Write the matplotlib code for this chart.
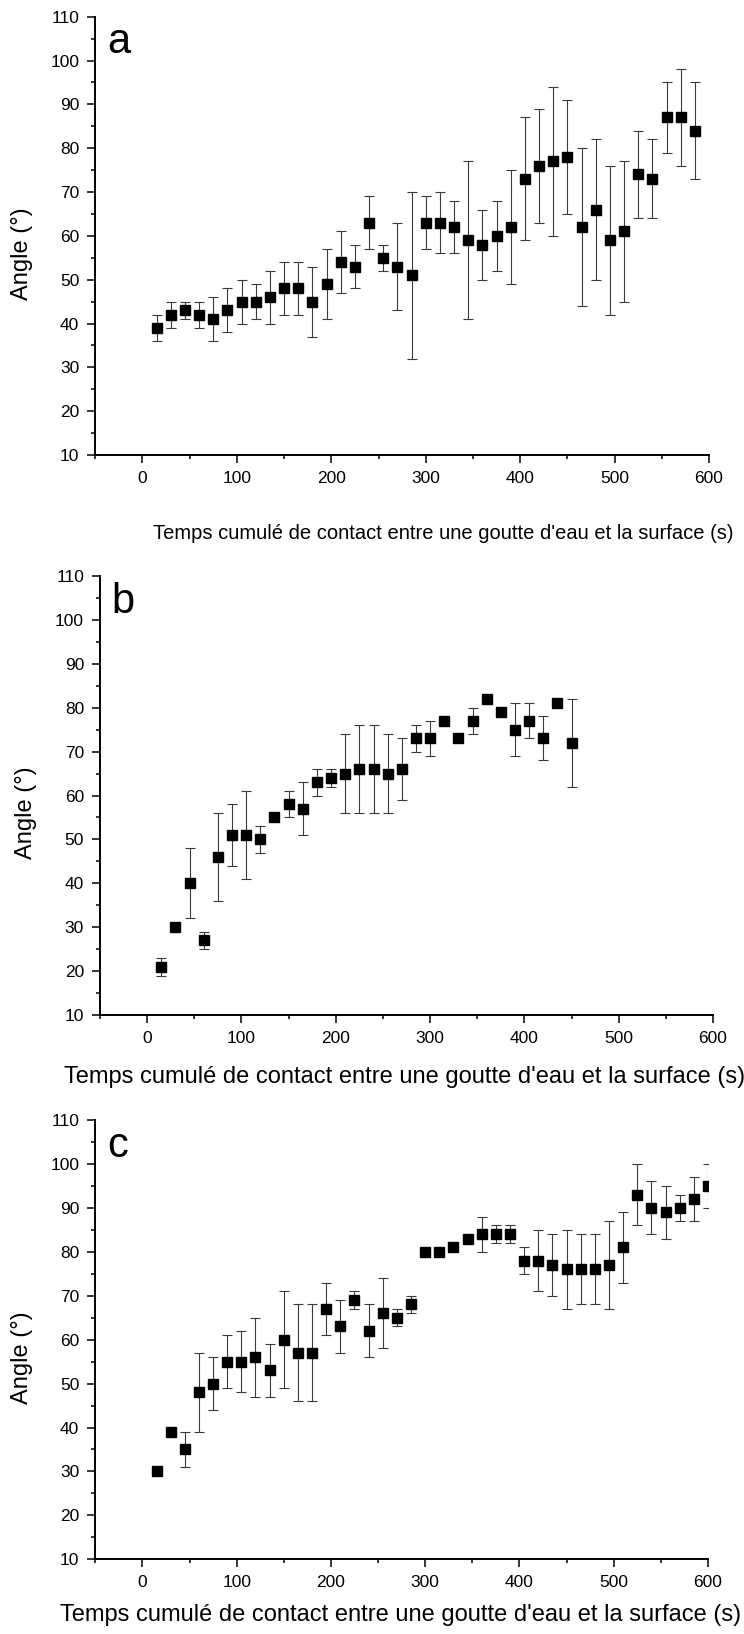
import matplotlib
matplotlib.use("Agg")
import matplotlib.pyplot as plt
import numpy as np
from matplotlib.ticker import MultipleLocator

plt.rcParams['font.family'] = ['Liberation Sans', 'DejaVu Sans']

# data: time (s), angle (deg), lower / upper end of the error bars
t_a = [15, 30, 45, 60, 75, 90, 105, 120, 135, 150, 165, 180, 195, 210, 225, 240, 255, 270, 285, 300,
       315, 330, 345, 360, 375, 390, 405, 420, 435, 450, 465, 480, 495, 510, 525, 540, 555, 570, 585]
ang_a = [39, 42, 43, 42, 41, 43, 45, 45, 46, 48, 48, 45, 49, 54, 53, 63, 55, 53, 51, 63,
         63, 62, 59, 58, 60, 62, 73, 76, 77, 78, 62, 66, 59, 61, 74, 73, 87, 87, 84]
lo_a = [36, 39, 41, 39, 36, 38, 40, 41, 40, 42, 42, 37, 41, 47, 48, 57, 52, 43, 32, 57,
        56, 56, 41, 50, 52, 49, 59, 63, 60, 65, 44, 50, 42, 45, 64, 64, 79, 76, 73]
hi_a = [42, 45, 45, 45, 46, 48, 50, 49, 52, 54, 54, 53, 57, 61, 58, 69, 58, 63, 70, 69,
        70, 68, 77, 66, 68, 75, 87, 89, 94, 91, 80, 82, 76, 77, 84, 82, 95, 98, 95]

t_b = [15, 30, 45, 60, 75, 90, 105, 120, 135, 150, 165, 180, 195, 210, 225,
       240, 255, 270, 285, 300, 315, 330, 345, 360, 375, 390, 405, 420, 435, 450]
ang_b = [21, 30, 40, 27, 46, 51, 51, 50, 55, 58, 57, 63, 64, 65, 66,
         66, 65, 66, 73, 73, 77, 73, 77, 82, 79, 75, 77, 73, 81, 72]
lo_b = [19, np.nan, 32, 25, 36, 44, 41, 47, np.nan, 55, 51, 60, 62, 56, 56,
        56, 56, 59, 70, 69, np.nan, np.nan, 74, np.nan, np.nan, 69, 73, 68, np.nan, 62]
hi_b = [23, np.nan, 48, 29, 56, 58, 61, 53, np.nan, 61, 63, 66, 66, 74, 76,
        76, 74, 73, 76, 77, np.nan, np.nan, 80, np.nan, np.nan, 81, 81, 78, np.nan, 82]

t_c = [15, 30, 45, 60, 75, 90, 105, 120, 135, 150, 165, 180, 195, 210, 225, 240, 255, 270, 285, 300,
       315, 330, 345, 360, 375, 390, 405, 420, 435, 450, 465, 480, 495, 510, 525, 540, 555, 570, 585, 600]
ang_c = [30, 39, 35, 48, 50, 55, 55, 56, 53, 60, 57, 57, 67, 63, 69, 62, 66, 65, 68, 80,
         80, 81, 83, 84, 84, 84, 78, 78, 77, 76, 76, 76, 77, 81, 93, 90, 89, 90, 92, 95]
lo_c = [np.nan, np.nan, 31, 39, 44, 49, 48, 47, 47, 49, 46, 46, 61, 57, 67, 56, 58, 63, 66, np.nan,
        np.nan, np.nan, np.nan, 80, 82, 82, 75, 71, 70, 67, 68, 68, 67, 73, 86, 84, 83, 87, 87, 90]
hi_c = [np.nan, np.nan, 39, 57, 56, 61, 62, 65, 59, 71, 68, 68, 73, 69, 71, 68, 74, 67, 70, np.nan,
        np.nan, np.nan, np.nan, 88, 86, 86, 81, 85, 84, 85, 84, 84, 87, 89, 100, 96, 95, 93, 97, 100]

xlabel = "Temps cumulé de contact entre une goutte d'eau et la surface (s)"

panels = [
    # letter, data, axes rect, xlabel size, xlabel pos
    ('a', t_a, ang_a, lo_a, hi_a, [0.128, 0.7215, 0.825, 0.2683], 14.5, (0.567, -0.157)),
    ('b', t_b, ang_b, lo_b, hi_b, [0.1344, 0.3788, 0.824, 0.2687], 17, (0.497, -0.116)),
    ('c', t_c, ang_c, lo_c, hi_c, [0.128, 0.0457, 0.8236, 0.2689], 17, (0.498, -0.102)),
]

fig = plt.figure(figsize=(7.44, 16.34), dpi=100)

for letter, t, y, lo, hi, rect, xls, xlpos in panels:
    ax = fig.add_axes(rect)
    y = np.array(y, dtype=float)
    err = [y - np.array(lo, dtype=float), np.array(hi, dtype=float) - y]
    ax.errorbar(t, y, yerr=err, fmt='none', ecolor='#3a3a3a', elinewidth=0.8,
                capsize=3.3, capthick=0.8, zorder=2)
    ax.plot(t, y, 's', color='black', markersize=7.2, zorder=3)

    ax.set_xlim(-50, 600)
    ax.set_ylim(10, 110)
    ax.xaxis.set_major_locator(MultipleLocator(100))
    ax.xaxis.set_minor_locator(MultipleLocator(50))
    ax.yaxis.set_major_locator(MultipleLocator(10))
    ax.yaxis.set_minor_locator(MultipleLocator(5))
    ax.set_xticks([0, 100, 200, 300, 400, 500, 600])

    for s in ['top', 'right']:
        ax.spines[s].set_visible(False)
    for s in ['left', 'bottom']:
        ax.spines[s].set_linewidth(1.4)
    ax.tick_params(which='major', direction='out', length=5.5, width=1.1,
                   labelsize=12.5, pad=6)
    ax.tick_params(which='minor', direction='out', length=3, width=1.1)

    ax.set_ylabel('Angle (°)', fontsize=17)
    ax.yaxis.set_label_coords(-0.102, 0.46)
    ax.set_xlabel(xlabel, fontsize=xls)
    ax.xaxis.set_label_coords(*xlpos)

    ax.text(0.019, 0.916, letter, transform=ax.transAxes, fontsize=30,
            ha='left', va='baseline')

fig.savefig('out.png', dpi=100)
